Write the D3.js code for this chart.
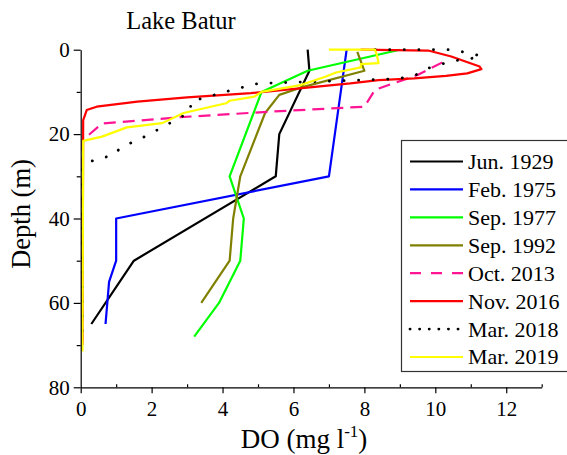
<!DOCTYPE html>
<html>
<head>
<meta charset="utf-8">
<script src="https://cdn.jsdelivr.net/npm/d3@7"></script>
<style>
  body { margin: 0; background: #fff; }
  svg { display: block; font-family: "Liberation Serif", "Times New Roman", serif; }
  svg text { font-family: "Liberation Serif", "Times New Roman", serif; }
</style>
</head>
<body>
<svg id="chart"></svg>
<script>
// profiles: [DO mg/l, depth m]
let jun1929 = [[6.4, 0], [6.45, 5], [5.6, 20], [5.5, 30], [1.5, 50], [0.3, 65]];
let feb1975 = [[7.5, 0], [7.0, 30], [1.0, 40], [1.0, 50], [0.8, 55], [0.7, 65]];
let sep1977 = [[9.0, 0], [6.4, 5], [5.1, 10], [4.2, 30], [4.6, 40], [4.5, 50], [3.9, 60], [3.2, 68]];
let sep1992 = [[7.8, 0.5], [8.0, 5], [6.2, 9], [5.6, 10.7], [5.2, 15], [4.5, 30], [4.3, 40], [4.2, 50], [3.4, 60]];
let oct2013 = [[10.2, 3], [9.5, 6], [8.3, 9.5], [8.0, 13.5], [5.3, 14.7], [2.8, 16], [0.6, 17.5], [0.05, 21.5], [0.05, 70]];
let nov2016 = [[7.9, 0], [9.8, 0.2], [10.45, 1.6], [11.25, 4], [11.3, 4.6], [10.9, 5.6], [10.3, 6.2], [9.4, 6.8], [8.4, 7.2],
  [7.6, 8], [6.6, 8.8], [4.8, 10.3], [3.0, 11.3], [1.6, 12.3], [0.45, 13.5], [0.17, 14.3], [0.07, 16.7], [0.05, 70]];
let mar2018 = [[8.3, 0], [10.5, 0], [11.3, 1.5], [10.9, 2.3], [10.5, 2.6], [9.8, 4.4], [9.4, 6.2], [9.0, 6.8], [8.6, 7],
  [5.0, 8], [4.2, 9.7], [3.1, 12.3], [3.1, 14.7], [1.9, 20.2], [1.5, 21.8], [1.15, 23], [0.9, 25.2], [0.5, 25.7], [0.15, 27], [0.05, 28], [0.05, 70]];
let mar2019 = [[7.0, 0], [8.3, 0], [8.35, 1.2], [8.4, 3.2], [7.9, 3.4], [7.9, 4.2], [7.2, 5.4], [6.9, 6.4], [6.2, 8.4], [5.1, 10],
  [4.9, 11.1], [4.2, 12.1], [4.1, 12.7], [2.9, 15], [2.3, 17.4], [1.3, 18.4], [0.6, 20.6], [0.07, 21.6], [0.05, 71.5]];

let seriesNames = ["Jun. 1929", "Feb. 1975", "Sep. 1977", "Sep. 1992", "Oct. 2013", "Nov. 2016", "Mar. 2018", "Mar. 2019"];
let seriesData = [jun1929, feb1975, sep1977, sep1992, oct2013, nov2016, mar2018, mar2019];
let seriesColors = ["#000000", "#0000ff", "#00ff00", "#808000", "#ff1493", "#ff0000", "#000000", "#ffff00"];
let seriesDash = [null, null, null, null, "12,7", null, "0.1,14.5", null];
let legendDash = [null, null, null, null, "11,10", null, "0.1,9.5", null];

let xMajor = [0, 2, 4, 6, 8, 10, 12];
let xMinor = [1, 3, 5, 7, 9, 11, 13];
let yMajor = [0, 20, 40, 60, 80];
let yMinor = [10, 30, 50, 70];

let width = 567;
let height = 455;
let serif = "'Liberation Serif', 'Times New Roman', serif";

let svg = d3.select("#chart").attr("width", width).attr("height", height);

let xScale = d3.scaleLinear().domain([0, 13]).range([80.7, 541.7]);
let yScale = d3.scaleLinear().domain([0, 80]).range([49.7, 387.3]);

let line = d3.line()
  .x((d) => xScale(d[0]))
  .y((d) => yScale(d[1]));

// profiles
seriesData.forEach((s, i) => {
  let p = svg.append("path")
    .attr("d", line(s))
    .attr("fill", "none")
    .attr("stroke", seriesColors[i])
    .attr("stroke-width", i == 6 ? 2.8 : 2.2)
    .attr("stroke-linejoin", "round");
  if (seriesDash[i]) {
    p.attr("stroke-dasharray", seriesDash[i]);
    if (i == 6) p.attr("stroke-linecap", "round");
  }
});

// axes
let styleAxis = (g) => {
  g.attr("font-family", null).style("font-family", serif);
  g.selectAll("g").attr("font-family", null);
  g.selectAll("path, line").attr("stroke", "#000").attr("stroke-width", 1.2);
  g.selectAll("text").style("font-family", serif).attr("font-size", 21).attr("fill", "#000");
};

let xAxisG = svg.append("g").attr("transform", "translate(0," + yScale(80) + ")");
xAxisG.call(d3.axisBottom(xScale).tickValues(xMajor).tickSize(6).tickSizeOuter(0).tickPadding(8).tickFormat(d3.format("d")));
xAxisG.append("g").call(d3.axisBottom(xScale).tickValues(xMinor).tickSize(-3).tickSizeOuter(0).tickFormat(""))
  .select(".domain").remove();
styleAxis(xAxisG);

let yAxisG = svg.append("g").attr("transform", "translate(" + xScale(0) + ",0)");
yAxisG.call(d3.axisLeft(yScale).tickValues(yMajor).tickSize(7).tickSizeOuter(0).tickPadding(4).tickFormat(d3.format("d")));
yAxisG.append("g").call(d3.axisLeft(yScale).tickValues(yMinor).tickSize(4).tickSizeOuter(0).tickFormat(""))
  .select(".domain").remove();
styleAxis(yAxisG);

// titles
svg.append("text")
  .attr("x", 181).attr("y", 29)
  .attr("text-anchor", "middle")
  .attr("font-size", 24.5)
  .text("Lake Batur");

let xt = svg.append("text")
  .attr("x", 304).attr("y", 448)
  .attr("text-anchor", "middle")
  .attr("font-size", 27);
xt.append("tspan").text("DO (mg l");
xt.append("tspan").attr("dy", -11).attr("font-size", 17).text("-1");
xt.append("tspan").attr("dy", 11).text(")");

svg.append("text")
  .attr("transform", "translate(30,214) rotate(-90)")
  .attr("text-anchor", "middle")
  .attr("font-size", 26.5)
  .text("Depth (m)");

// legend
let legend = svg.append("g");
legend.append("rect")
  .attr("x", 401.5).attr("y", 140.5)
  .attr("width", 180).attr("height", 231)
  .attr("fill", "#fff")
  .attr("stroke", "#333")
  .attr("stroke-width", 1.2);

let rowY = d3.scaleLinear().domain([0, 7]).range([161.5, 357]);
seriesNames.forEach((name, i) => {
  let y = rowY(i);
  let l = legend.append("line")
    .attr("x1", 410).attr("x2", 463)
    .attr("y1", y).attr("y2", y)
    .attr("stroke", seriesColors[i])
    .attr("stroke-width", i == 6 ? 2.8 : 2.2);
  if (legendDash[i]) {
    l.attr("stroke-dasharray", legendDash[i]);
    if (i == 6) l.attr("stroke-linecap", "round");
  }
  legend.append("text")
    .attr("x", 468).attr("y", y)
    .attr("dy", "0.34em")
    .attr("font-size", 22)
    .text(name);
});
</script>
</body>
</html>
